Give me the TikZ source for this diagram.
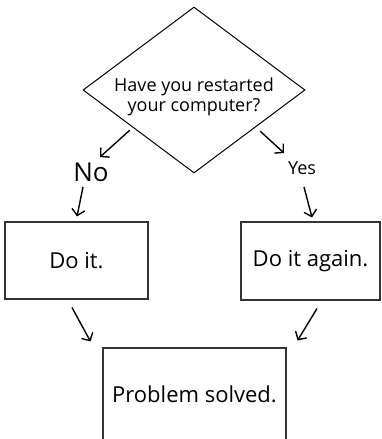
\documentclass[tikz,border=0pt]{standalone}
\usepackage{fontspec}
\setmainfont{Open Sans}
\usetikzlibrary{shapes.geometric, arrows.meta}
\tikzstyle{decision} = [diamond, draw=black, line width=1pt, aspect=1.34, minimum width=222pt, minimum height=166pt, inner sep=0pt]
\tikzstyle{process} = [rectangle, draw=black!80, line width=1.1pt, inner sep=0pt, font=\fontsize{22}{26}\selectfont]
\tikzstyle{answer} = [inner sep=0pt]
\tikzstyle{arrow} = [line width=1.4pt,-{Straight Barb[length=6pt,width=13pt]}]

\begin{document}
\begin{tikzpicture}[x=1pt,y=-1pt]
	\clip (0,0) rectangle (381,439);
	% question
	\node[decision] (q) at (194,90) {};
	\node[align=center, font=\fontsize{18}{20}\selectfont] (qtext) at (194,97) {Have you restarted\\your computer?};
	% answers
	\node[answer, font=\fontsize{26}{28}\selectfont] (no) at (91,172) {No};
	\node[answer, font=\fontsize{18}{20}\selectfont] (yes) at (302,168) {Yes};
	% boxes
	\node[process, minimum width=143pt, minimum height=77pt] (doit) at (76.5,260.5) {Do it.};
	\node[process, minimum width=139pt, minimum height=78pt] (again) at (310.5,261) {Do it again.};
	\node[process, minimum width=183pt, minimum height=93pt] (solved) at (194.5,394.5) {Problem solved.};
	% arrows
	\draw[arrow] ([shift={(-8.5,-1.5)}]q.south west) -- ([shift={(9,-15)}]no.center);
	\draw[arrow] ([shift={(-8,15)}]no.center) -- ([shift={(0.5,-5)}]doit.north);
	\draw[arrow] ([shift={(10.5,-0.5)}]q.south east) -- ([shift={(-18,-15)}]yes.center);
	\draw[arrow] ([shift={(2,19)}]yes.center) -- ([shift={(1.5,-4)}]again.north);
	\draw[arrow] ([shift={(-4.5,8)}]doit.south) -- ([shift={(-12,-6)}]solved.north west);
	\draw[arrow] ([shift={(6.5,8)}]again.south) -- ([shift={(11,-7)}]solved.north east);
\end{tikzpicture}
\end{document}
